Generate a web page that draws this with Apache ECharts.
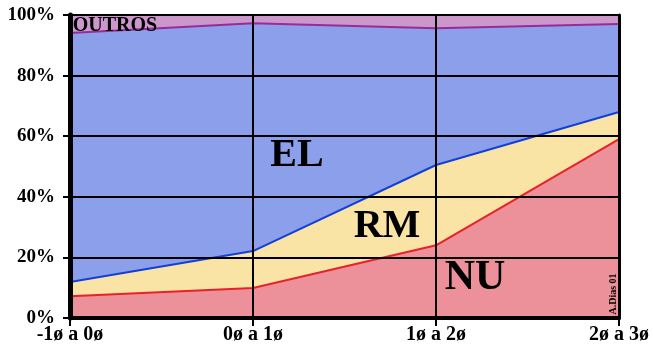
<!DOCTYPE html>
<html>
<head>
<meta charset="utf-8">
<script src="https://cdn.jsdelivr.net/npm/echarts@6/dist/echarts.min.js"></script>
<style>
  html, body { margin: 0; padding: 0; background: #ffffff; }
  #chart { width: 653px; height: 347px; }
</style>
</head>
<body>
<div id="chart"></div>
<script>
// Share of each group per diameter class (stacked to 100%)
const categories = ['-1ø a 0ø', '0ø a 1ø', '1ø a 2ø', '2ø a 3ø'];
const nuValues = [7.2, 9.9, 24, 59];
const rmValues = [4.7, 12.2, 26.5, 9];
const elValues = [82.2, 75.2, 45.1, 29];
const outrosValues = [5.9, 2.7, 4.4, 3];
const yTicks = [0, 20, 40, 60, 80, 100];

const FONT = '"Liberation Serif", "Times New Roman", serif';

const chart = echarts.init(document.getElementById('chart'), null, { renderer: 'canvas' });

function areaSeries(name, data, fill, line, lineWidth) {
  return {
    name: name,
    type: 'line',
    stack: 'total',
    data: data,
    symbol: 'none',
    smooth: false,
    z: 2,
    lineStyle: { color: line, width: lineWidth },
    areaStyle: { color: fill, opacity: 1 }
  };
}

chart.setOption({
  animation: false,
  backgroundColor: '#ffffff',
  grid: { left: 70, right: 34, top: 15, bottom: 29 },
  xAxis: [
    {
      type: 'category',
      data: categories,
      boundaryGap: false,
      z: 5,
      axisLine: { show: true, lineStyle: { color: '#000', width: 4 } },
      axisTick: { show: true, length: 8, lineStyle: { color: '#000', width: 2 } },
      axisLabel: {
        color: '#000', fontFamily: FONT, fontWeight: 'bold', fontSize: 20, margin: 7
      },
      splitLine: { show: true, lineStyle: { color: '#000', width: 2 } }
    },
    {
      type: 'category',
      data: categories,
      boundaryGap: false,
      position: 'top',
      z: 5,
      axisLine: { show: true, lineStyle: { color: '#000', width: 3 } },
      axisTick: { show: false },
      axisLabel: { show: false },
      splitLine: { show: false }
    }
  ],
  yAxis: [
    {
      type: 'value',
      min: yTicks[0],
      max: yTicks[yTicks.length - 1],
      interval: 20,
      z: 5,
      axisLine: { show: true, lineStyle: { color: '#000', width: 5 } },
      axisTick: { show: true, length: 7, lineStyle: { color: '#000', width: 2 } },
      axisLabel: {
        formatter: '{value}%',
        color: '#000', fontFamily: FONT, fontWeight: 'bold', fontSize: 19, margin: 15
      },
      splitLine: { show: true, lineStyle: { color: '#000', width: 2 } }
    },
    {
      type: 'value',
      min: yTicks[0],
      max: yTicks[yTicks.length - 1],
      interval: 20,
      position: 'right',
      z: 5,
      axisLine: { show: true, lineStyle: { color: '#000', width: 3 } },
      axisTick: { show: false },
      axisLabel: { show: false },
      splitLine: { show: false }
    }
  ],
  series: [
    areaSeries('NU', nuValues, '#ec9099', '#e8212b', 2),
    areaSeries('RM', rmValues, '#f9e4a6', '#1040d8', 2),
    areaSeries('EL', elValues, '#8c9fea', '#9a2a98', 2),
    areaSeries('OUTROS', outrosValues, '#cc98cc', '#cc98cc', 0)
  ],
  graphic: [
    {
      type: 'text', z: 20, x: 297, y: 156,
      style: { text: 'EL', fontFamily: FONT, fontWeight: 'bold', fontSize: 40, fill: '#000', align: 'center', verticalAlign: 'middle' }
    },
    {
      type: 'text', z: 20, x: 387, y: 227,
      style: { text: 'RM', fontFamily: FONT, fontWeight: 'bold', fontSize: 40, fill: '#000', align: 'center', verticalAlign: 'middle' }
    },
    {
      type: 'text', z: 20, x: 475, y: 278,
      style: { text: 'NU', fontFamily: FONT, fontWeight: 'bold', fontSize: 42, fill: '#000', align: 'center', verticalAlign: 'middle' }
    },
    {
      type: 'text', z: 20, x: 115, y: 26,
      style: { text: 'OUTROS', fontFamily: FONT, fontWeight: 'bold', fontSize: 20, fill: '#000', align: 'center', verticalAlign: 'middle' }
    },
    {
      type: 'text', z: 20, x: 613, y: 294, rotation: Math.PI / 2,
      style: { text: 'A.Dias 01', fontFamily: FONT, fontWeight: 'bold', fontSize: 10, fill: '#000', align: 'center', verticalAlign: 'middle' }
    }
  ]
});
</script>
</body>
</html>
